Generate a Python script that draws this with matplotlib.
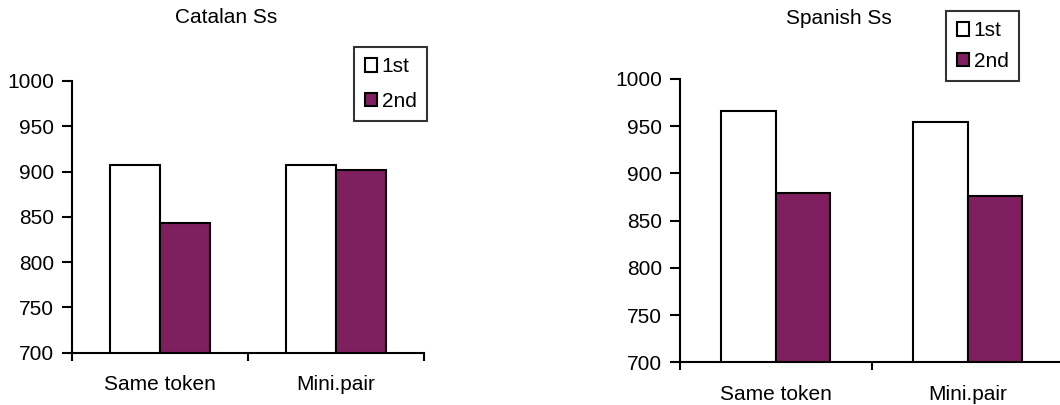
import matplotlib.pyplot as plt
from matplotlib.patches import Patch

plt.rcParams['font.family'] = ['Liberation Sans', 'DejaVu Sans']

categories = ["Same token", "Mini.pair"]
series_names = ["1st", "2nd"]
catalan_1st = [907, 907]
catalan_2nd = [843, 902]
spanish_1st = [966, 954]
spanish_2nd = [879, 876]
y_ticks = [700, 750, 800, 850, 900, 950, 1000]

PURPLE = '#7F1F5F'
FS = 15
BAR_W = 0.284

fig = plt.figure(figsize=(10.6, 4.05), dpi=100)


def draw_panel(rect, first, second):
    ax = fig.add_axes(rect)
    centers = [i + 0.5 for i in range(len(categories))]
    ax.bar([c - BAR_W / 2 for c in centers], first, BAR_W, bottom=0,
           color='white', edgecolor='black', linewidth=1.5, zorder=2)
    ax.bar([c + BAR_W / 2 for c in centers], second, BAR_W, bottom=0,
           color=PURPLE, edgecolor='black', linewidth=1.5, zorder=2)
    ax.set_xlim(0, len(categories))
    ax.set_ylim(700, 1000)
    ax.set_yticks(y_ticks)
    ax.set_yticklabels([str(t) for t in y_ticks], fontsize=FS)
    # category boundaries get tick marks, labels sit between them
    ax.set_xticks(range(len(categories) + 1))
    ax.set_xticklabels([])
    ax.set_xticks(centers, minor=True)
    ax.set_xticklabels(categories, minor=True, fontsize=FS)
    ax.tick_params(axis='x', which='minor', length=0, pad=16)
    ax.tick_params(axis='x', which='major', direction='out', length=6, width=1.5)
    ax.tick_params(axis='y', direction='out', length=7, width=1.5, pad=6)
    for side in ('top', 'right'):
        ax.spines[side].set_visible(False)
    for side in ('left', 'bottom'):
        ax.spines[side].set_linewidth(1.5)
    ax.set_facecolor('none')
    return ax


ax1 = draw_panel([72 / 1060, 1 - 352.7 / 405, 352 / 1060, 271.7 / 405],
                 catalan_1st, catalan_2nd)
ax2 = draw_panel([680 / 1060, 1 - 362.3 / 405, 383.4 / 1060, 283.3 / 405],
                 spanish_1st, spanish_2nd)

fig.text(226 / 1060, 1 - 17.5 / 405, "Catalan Ss", ha='center', va='center', fontsize=FS)
fig.text(838.7 / 1060, 1 - 18.5 / 405, "Spanish Ss", ha='center', va='center', fontsize=FS)

handles = [Patch(facecolor='white', edgecolor='black', linewidth=1.5),
           Patch(facecolor=PURPLE, edgecolor='black', linewidth=1.5)]


def add_legend(x0, y0, x1, y1, spacing):
    leg = fig.legend(handles, series_names, loc='center',
                     bbox_to_anchor=((x0 + x1) / 2 / 1060, 1 - (y0 + y1) / 2 / 405),
                     fontsize=FS, frameon=True, fancybox=False, shadow=False,
                     handlelength=0.62, handleheight=0.62, handletextpad=0.2,
                     labelspacing=spacing, borderpad=0.5, borderaxespad=0)
    frame = leg.get_frame()
    frame.set_edgecolor('black')
    frame.set_linewidth(1.5)
    return leg


add_legend(354, 45, 427, 123, 0.75)
add_legend(947, 12, 1018, 80, 0.55)

fig.savefig('out.png', dpi=100, facecolor='white')
